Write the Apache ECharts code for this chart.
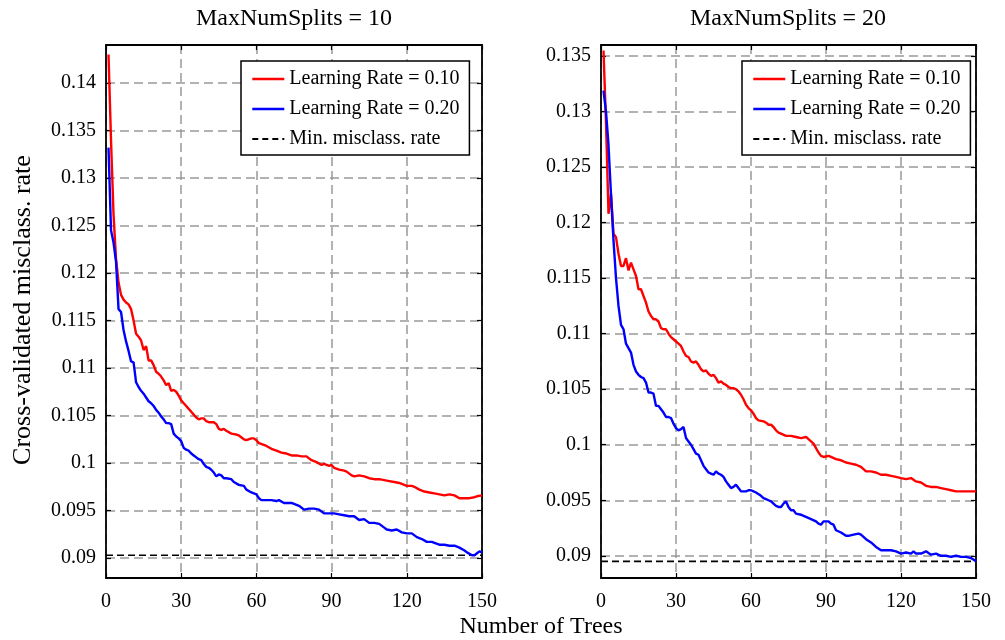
<!DOCTYPE html>
<html><head><meta charset="utf-8">
<script src="https://cdn.jsdelivr.net/npm/echarts@6/dist/echarts.min.js"></script>
<style>html,body{margin:0;padding:0;background:#fff}#c{width:1005px;height:640px}</style>
</head><body><div id="c"></div>
<script>
// ---- data: [number of trees, cross-validated misclassification rate] ----
const split10_lr010 = [[1,0.1430],[2,0.1340],[3,0.1262],[4,0.1215],[5,0.1190],[6,0.1177],[7,0.1172],[8,0.1169],[9,0.1167],[10,0.1162],[11,0.1150],[12,0.1136],[13,0.1133],[14,0.1129],[15,0.1119],[16,0.1123],[17,0.1108],[18,0.1108],[19,0.1103],[20,0.1096],[21,0.1094],[22,0.1091],[23,0.1087],[24,0.1082],[25,0.1084],[26,0.1076],[27,0.1077],[28,0.1075],[29,0.1071],[30,0.1066],[31,0.1063],[32,0.1060],[33,0.1057],[34,0.1054],[35,0.1051],[36,0.1048],[37,0.1046],[38,0.1047],[39,0.1047],[40,0.1044],[41,0.1043],[42,0.1043],[43,0.1043],[44,0.1041],[45,0.1036],[46,0.1035],[47,0.1036],[48,0.1034],[50,0.1031],[52,0.1030],[53,0.1029],[55,0.1025],[56,0.1024],[58,0.1026],[59,0.1026],[60,0.1024],[61,0.1021],[63,0.1019],[64,0.1018],[66,0.1015],[68,0.1013],[70,0.1011],[72,0.1010],[74,0.1008],[76,0.1008],[78,0.1007],[80,0.1007],[82,0.1003],[84,0.1001],[86,0.0998],[87,0.0999],[89,0.0997],[90,0.0998],[91,0.0995],[93,0.0993],[95,0.0992],[96,0.0991],[98,0.0987],[99,0.0986],[101,0.0987],[103,0.0986],[105,0.0984],[107,0.0983],[109,0.0983],[111,0.0982],[113,0.0981],[115,0.0980],[117,0.0979],[119,0.0977],[120,0.0976],[122,0.0976],[123,0.0975],[125,0.0972],[127,0.0970],[129,0.0969],[131,0.0968],[133,0.0967],[135,0.0966],[137,0.0967],[139,0.0966],[141,0.0963],[143,0.0963],[145,0.0963],[147,0.0964],[148,0.0965],[150,0.0966]];
const split10_lr020 = [[1,0.1332],[2,0.1245],[3,0.1232],[4,0.1212],[5,0.1162],[6,0.1159],[7,0.1140],[8,0.1128],[9,0.1118],[10,0.1107],[11,0.1106],[12,0.1085],[13,0.1080],[14,0.1076],[15,0.1073],[16,0.1069],[17,0.1065],[18,0.1063],[19,0.1060],[20,0.1056],[21,0.1053],[22,0.1049],[23,0.1046],[24,0.1042],[25,0.1042],[26,0.1041],[27,0.1031],[28,0.1028],[29,0.1026],[30,0.1023],[31,0.1016],[32,0.1014],[33,0.1013],[34,0.1010],[35,0.1008],[36,0.1006],[37,0.1004],[38,0.1003],[39,0.0999],[40,0.0996],[41,0.0995],[42,0.0993],[43,0.0990],[44,0.0986],[45,0.0988],[46,0.0987],[47,0.0984],[48,0.0984],[50,0.0983],[51,0.0980],[53,0.0977],[55,0.0976],[56,0.0972],[58,0.0969],[60,0.0967],[61,0.0963],[62,0.0961],[64,0.0961],[66,0.0961],[68,0.0960],[69,0.0961],[71,0.0958],[73,0.0958],[74,0.0958],[76,0.0956],[77,0.0955],[79,0.0951],[81,0.0952],[83,0.0952],[85,0.0951],[86,0.0949],[87,0.0947],[89,0.0947],[91,0.0947],[93,0.0946],[95,0.0945],[97,0.0944],[99,0.0944],[101,0.0940],[103,0.0941],[105,0.0937],[107,0.0937],[109,0.0936],[111,0.0932],[112,0.0930],[114,0.0929],[116,0.0930],[118,0.0927],[120,0.0926],[122,0.0926],[124,0.0922],[126,0.0920],[128,0.0917],[130,0.0917],[131,0.0916],[133,0.0914],[135,0.0914],[137,0.0913],[139,0.0913],[141,0.0911],[143,0.0908],[144,0.0906],[146,0.0903],[147,0.0903],[148,0.0905],[149,0.0907],[150,0.0906]];
const split10_min = 0.0903;

const split20_lr010 = [[1,0.1355],[2,0.1290],[3,0.1208],[4,0.1226],[5,0.1190],[6,0.1187],[7,0.1172],[8,0.1161],[9,0.1161],[10,0.1168],[11,0.1157],[12,0.1164],[13,0.1158],[14,0.1152],[15,0.1140],[16,0.1140],[17,0.1134],[18,0.1128],[19,0.1120],[20,0.1116],[21,0.1113],[22,0.1113],[23,0.1111],[24,0.1105],[25,0.1104],[26,0.1104],[27,0.1100],[28,0.1097],[29,0.1095],[30,0.1093],[31,0.1091],[32,0.1089],[33,0.1084],[34,0.1080],[35,0.1079],[36,0.1075],[37,0.1074],[38,0.1075],[39,0.1072],[40,0.1068],[41,0.1066],[42,0.1067],[43,0.1064],[44,0.1062],[45,0.1063],[46,0.1060],[47,0.1056],[48,0.1057],[49,0.1055],[50,0.1054],[51,0.1052],[52,0.1051],[53,0.1051],[54,0.1050],[55,0.1048],[56,0.1045],[57,0.1041],[58,0.1036],[59,0.1033],[60,0.1031],[61,0.1028],[62,0.1024],[63,0.1022],[65,0.1021],[66,0.1020],[67,0.1018],[68,0.1018],[69,0.1016],[70,0.1013],[71,0.1011],[72,0.1010],[74,0.1008],[76,0.1008],[78,0.1007],[80,0.1006],[82,0.1007],[83,0.1005],[84,0.1003],[85,0.1001],[86,0.0997],[87,0.0993],[88,0.0990],[89,0.0989],[91,0.0990],[92,0.0989],[94,0.0987],[96,0.0986],[98,0.0984],[100,0.0983],[102,0.0982],[104,0.0980],[106,0.0976],[108,0.0976],[110,0.0975],[112,0.0973],[114,0.0973],[116,0.0972],[118,0.0971],[120,0.0970],[122,0.0969],[124,0.0970],[126,0.0967],[128,0.0966],[130,0.0963],[132,0.0962],[134,0.0962],[136,0.0961],[138,0.0960],[140,0.0959],[142,0.0958],[144,0.0958],[146,0.0958],[148,0.0958],[150,0.0958]];
const split20_lr020 = [[1,0.1319],[2,0.1300],[3,0.1270],[4,0.1225],[5,0.1184],[6,0.1150],[7,0.1125],[8,0.1108],[9,0.1104],[10,0.1091],[11,0.1087],[12,0.1083],[13,0.1072],[14,0.1066],[15,0.1063],[16,0.1061],[17,0.1060],[18,0.1056],[19,0.1047],[20,0.1047],[21,0.1046],[22,0.1035],[23,0.1035],[24,0.1032],[25,0.1029],[26,0.1025],[27,0.1025],[28,0.1024],[29,0.1019],[30,0.1015],[31,0.1013],[32,0.1014],[33,0.1016],[34,0.1006],[35,0.1003],[36,0.1000],[37,0.0996],[38,0.0992],[39,0.0991],[40,0.0986],[41,0.0981],[42,0.0978],[43,0.0975],[44,0.0974],[45,0.0973],[46,0.0976],[47,0.0974],[48,0.0973],[49,0.0971],[50,0.0967],[51,0.0964],[52,0.0961],[53,0.0962],[54,0.0964],[55,0.0961],[56,0.0958],[57,0.0958],[58,0.0958],[59,0.0959],[60,0.0959],[61,0.0958],[62,0.0957],[64,0.0954],[65,0.0952],[66,0.0951],[67,0.0950],[68,0.0949],[69,0.0947],[70,0.0945],[71,0.0944],[72,0.0944],[73,0.0947],[74,0.0949],[75,0.0944],[76,0.0941],[77,0.0941],[78,0.0938],[80,0.0937],[81,0.0936],[82,0.0935],[84,0.0933],[86,0.0931],[87,0.0929],[88,0.0928],[89,0.0931],[91,0.0931],[92,0.0929],[93,0.0928],[94,0.0923],[96,0.0921],[98,0.0918],[99,0.0918],[101,0.0919],[103,0.0920],[104,0.0919],[106,0.0915],[108,0.0912],[110,0.0908],[112,0.0905],[114,0.0905],[116,0.0905],[118,0.0904],[120,0.0902],[122,0.0903],[124,0.0902],[125,0.0904],[126,0.0902],[128,0.0902],[130,0.0904],[132,0.0901],[134,0.0902],[136,0.0900],[138,0.0900],[140,0.0899],[142,0.0900],[144,0.0899],[146,0.0899],[148,0.0898],[150,0.0895]];
const split20_min = 0.0895;

const panelTitles = ['MaxNumSplits = 10', 'MaxNumSplits = 20'];
const seriesNames = ['Learning Rate = 0.10', 'Learning Rate = 0.20', 'Min. misclass. rate'];
const xLabel = 'Number of Trees';
const yLabel = 'Cross-validated misclass. rate';
const xTicks = [0, 30, 60, 90, 120, 150];
const yTicksLeft = [0.09, 0.095, 0.1, 0.105, 0.11, 0.115, 0.12, 0.125, 0.13, 0.135, 0.14];
const yTicksRight = [0.09, 0.095, 0.1, 0.105, 0.11, 0.115, 0.12, 0.125, 0.13, 0.135];
const yRangeLeft = [0.0879, 0.1440];
const yRangeRight = [0.0880, 0.1360];

// ---- styling ----
const FONT = 'Liberation Serif';
const grids = [
  {left: 106, right: 523, top: 45, bottom: 62},
  {left: 601, right: 29, top: 45, bottom: 62}
];
const gridLine = {show: true, lineStyle: {color: '#999999', width: 1.5, type: [9, 5]}};

function xAxes(g) {
  const base = {gridIndex: g, type: 'value', min: xTicks[0], max: xTicks[xTicks.length - 1], interval: 30,
    axisLine: {show: true, onZero: false, lineStyle: {color: '#000', width: 1.8}},
    axisTick: {show: true, inside: true, length: 5, lineStyle: {color: '#000', width: 1.2}}};
  return [
    Object.assign({}, base, {position: 'bottom', splitLine: gridLine,
      axisLabel: {show: true, margin: 14, fontFamily: FONT, fontSize: 20, color: '#000'}}),
    Object.assign({}, base, {position: 'top', splitLine: {show: false}, axisLabel: {show: false}})
  ];
}
function yAxes(g, range, ticks) {
  const base = {gridIndex: g, type: 'value', min: range[0], max: range[1],
    axisLine: {show: true, onZero: false, lineStyle: {color: '#000', width: 1.8}},
    axisTick: {show: true, inside: true, length: 5, customValues: ticks, lineStyle: {color: '#000', width: 1.2}}};
  return [
    Object.assign({}, base, {position: 'left', splitLine: gridLine,
      axisLabel: {show: true, margin: 10, customValues: ticks, fontFamily: FONT, fontSize: 20, color: '#000'}}),
    Object.assign({}, base, {position: 'right', splitLine: {show: false}, axisLabel: {show: false}})
  ];
}

function lineSeries(name, data, g, color, dashed) {
  return {name: name, type: 'line', xAxisIndex: g * 2, yAxisIndex: g * 2, data: data,
    showSymbol: false, symbol: 'none', animation: false, clip: true,
    lineStyle: {color: color, width: dashed ? 1.6 : 2.4, type: dashed ? [7, 4] : 'solid'},
    itemStyle: {color: color}, z: dashed ? 3 : 4};
}

const series = [];
[[split10_lr010, split10_lr020, split10_min], [split20_lr010, split20_lr020, split20_min]].forEach(function (d, g) {
  series.push(lineSeries(seriesNames[0], d[0], g, '#ff0000', false));
  series.push(lineSeries(seriesNames[1], d[1], g, '#0000ff', false));
  series.push(lineSeries(seriesNames[2], [[xTicks[0], d[2]], [xTicks[xTicks.length - 1], d[2]]], g, '#000000', true));
});

function legendAt(left) {
  return {left: left, top: 61, orient: 'vertical', selectedMode: false,
    data: [
      {name: seriesNames[0], lineStyle: {width: 2.6}},
      {name: seriesNames[1], lineStyle: {width: 2.6}},
      {name: seriesNames[2], lineStyle: {width: 1.8, type: [6, 4]}}
    ],
    itemWidth: 32, itemHeight: 14, itemGap: 10, padding: [8, 10, 6, 10],
    itemStyle: {opacity: 0},
    borderColor: '#000', borderWidth: 1.5, backgroundColor: '#fff',
    textStyle: {fontFamily: FONT, fontSize: 20, color: '#000'}};
}

const option = {
  animation: false,
  backgroundColor: '#fff',
  grid: grids,
  xAxis: xAxes(0).concat(xAxes(1)),
  yAxis: yAxes(0, yRangeLeft, yTicksLeft).concat(yAxes(1, yRangeRight, yTicksRight)),
  legend: [legendAt(241), legendAt(742)],
  series: series,
  graphic: [
    {type: 'text', x: 294, y: 19, style: {text: panelTitles[0], fontFamily: FONT, fontSize: 24, fill: '#000', textAlign: 'center', textVerticalAlign: 'middle'}},
    {type: 'text', x: 788, y: 19, style: {text: panelTitles[1], fontFamily: FONT, fontSize: 24, fill: '#000', textAlign: 'center', textVerticalAlign: 'middle'}},
    {type: 'text', x: 541, y: 627, style: {text: xLabel, fontFamily: FONT, fontSize: 24, fill: '#000', textAlign: 'center', textVerticalAlign: 'middle'}},
    {type: 'text', x: 23, y: 310, rotation: Math.PI / 2, style: {text: yLabel, fontFamily: FONT, fontSize: 26, fill: '#000', textAlign: 'center', textVerticalAlign: 'middle'}}
  ]
};

const chart = echarts.init(document.getElementById('c'), null, {renderer: 'canvas'});
chart.setOption(option);
</script>
</body></html>
